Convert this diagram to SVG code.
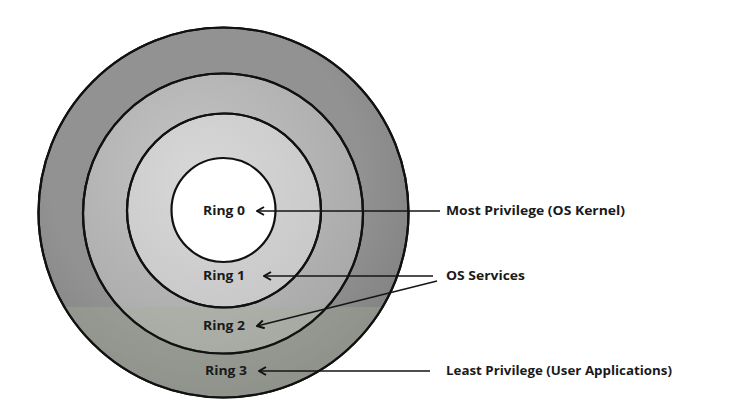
<svg xmlns="http://www.w3.org/2000/svg" width="729" height="417" viewBox="0 0 729 417">
<defs>
<radialGradient id="g3" cx="0.45" cy="0.4" r="0.6">
<stop offset="0.7" stop-color="#929292"/>
<stop offset="1" stop-color="#848484"/>
</radialGradient>
<radialGradient id="g2" cx="0.4" cy="0.35" r="0.7">
<stop offset="0" stop-color="#c4c4c4"/>
<stop offset="1" stop-color="#a8a8a8"/>
</radialGradient>
<radialGradient id="g1" cx="0.4" cy="0.35" r="0.7">
<stop offset="0" stop-color="#d8d8d8"/>
<stop offset="1" stop-color="#c8c8c8"/>
</radialGradient>
<clipPath id="outer"><circle cx="223.5" cy="212.5" r="185"/></clipPath>
<marker id="ah" viewBox="0 0 10 10" refX="9" refY="5" markerWidth="10" markerHeight="10" markerUnits="userSpaceOnUse" orient="auto">
<path d="M2,1 L9,5 L2,9" fill="none" stroke="#111" stroke-width="2"/>
</marker>
</defs>
<style>
.ring{stroke:#111;stroke-width:2.2}
.lbl{font-family:"Open Sans","Liberation Sans",sans-serif;font-weight:bold;font-size:12px;fill:#1a1a1a}
.conn{stroke:#151515;stroke-width:1.4;fill:none}
</style>
<rect width="729" height="417" fill="#ffffff"/>
<g id="ring3"><circle class="ring" cx="223.5" cy="212.5" r="185" fill="url(#g3)"/></g>
<g id="ring2"><circle class="ring" cx="223" cy="213.5" r="140" fill="url(#g2)"/></g>
<g id="ring1"><circle class="ring" cx="224" cy="210.5" r="97" fill="url(#g1)"/></g>
<g id="tint"><rect x="30" y="307" width="400" height="100" fill="#a7b09a" opacity="0.35" clip-path="url(#outer)"/></g>
<g id="ring2b"><circle cx="223" cy="213.5" r="140" fill="none" class="ring"/><circle cx="224" cy="210.5" r="97" fill="none" class="ring"/><circle cx="223.5" cy="212.5" r="185" fill="none" class="ring"/></g>
<g id="ring0"><circle class="ring" cx="223.5" cy="210" r="52" fill="#ffffff"/></g>
<g id="labels">
<text class="lbl" x="203" y="215" textLength="42" lengthAdjust="spacingAndGlyphs">Ring 0</text>
<text class="lbl" x="203" y="280" textLength="42" lengthAdjust="spacingAndGlyphs">Ring 1</text>
<text class="lbl" x="203" y="330" textLength="42" lengthAdjust="spacingAndGlyphs">Ring 2</text>
<text class="lbl" x="205" y="375" textLength="42" lengthAdjust="spacingAndGlyphs">Ring 3</text>
<text class="lbl" x="446" y="215" textLength="179" lengthAdjust="spacingAndGlyphs">Most Privilege (OS Kernel)</text>
<text class="lbl" x="446" y="280" textLength="79" lengthAdjust="spacingAndGlyphs">OS Services</text>
<text class="lbl" x="446" y="375" textLength="226" lengthAdjust="spacingAndGlyphs">Least Privilege (User Applications)</text>
</g>
<g id="connectors">
<line class="conn" x1="440" y1="211" x2="257" y2="211" marker-end="url(#ah)"/>
<line class="conn" x1="433" y1="276" x2="264" y2="276" marker-end="url(#ah)"/>
<line class="conn" x1="437" y1="281" x2="257" y2="326" marker-end="url(#ah)"/>
<line class="conn" x1="430" y1="371" x2="259" y2="371" marker-end="url(#ah)"/>
</g>
</svg>
